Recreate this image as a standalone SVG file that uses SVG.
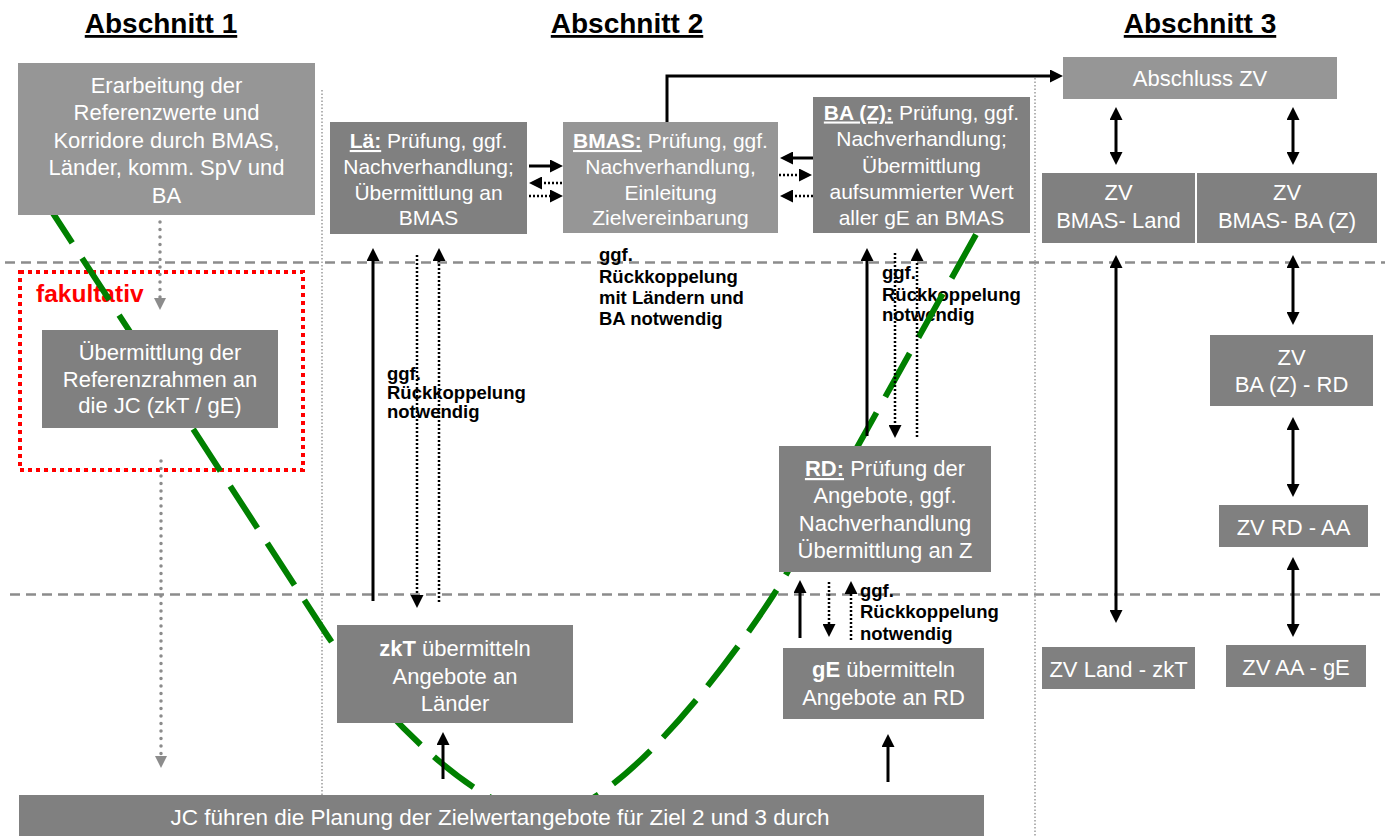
<svg xmlns="http://www.w3.org/2000/svg" width="1385" height="836" viewBox="0 0 1385 836">
<defs>
<style>
.t{font-family:"Liberation Sans",Arial,sans-serif;fill:#fff;text-anchor:middle}
.t22{font-size:22px}
.t21{font-size:21px}
.hd{font-family:"Liberation Sans",Arial,sans-serif;font-size:28px;font-weight:bold;fill:#000;text-anchor:middle;text-decoration:underline}
.lb{font-family:"Liberation Sans",Arial,sans-serif;font-size:18.5px;font-weight:bold;fill:#000}
.b{font-weight:bold}
.u{font-weight:bold;text-decoration:underline}
.light{fill:#969696}
.dark{fill:#808080}
.sep{stroke:#8c8c8c;stroke-width:2.5;stroke-dasharray:10 6;fill:none}
.div{stroke:#9a9a9a;stroke-width:1.5;stroke-dasharray:1.5 2;fill:none}
.solid{stroke:#000;stroke-width:3;fill:none}
.dot{stroke:#000;stroke-width:2.5;stroke-dasharray:2 2;fill:none}
.gdot{stroke:#8c8c8c;stroke-width:3.5;stroke-dasharray:0 7.5;stroke-linecap:round;fill:none}
</style>
<marker id="ah" markerUnits="userSpaceOnUse" markerWidth="13" markerHeight="13" refX="4" refY="6.5" orient="auto-start-reverse">
<path d="M0,0 L13,6.5 L0,13 z" fill="#000"/>
</marker>
<marker id="ahg" markerUnits="userSpaceOnUse" markerWidth="12" markerHeight="12" refX="2" refY="6" orient="auto">
<path d="M0,0 L12,6 L0,12 z" fill="#8c8c8c"/>
</marker>
</defs>
<rect width="1385" height="836" fill="#fff"/>

<g id="headings">
<text class="hd" x="161" y="33">Abschnitt 1</text>
<text class="hd" x="627" y="33">Abschnitt 2</text>
<text class="hd" x="1200" y="33">Abschnitt 3</text>
</g>

<g id="background-lines">
<line class="sep" x1="5" y1="262.5" x2="1385" y2="262.5"/>
<line class="sep" x1="10" y1="594.5" x2="1385" y2="594.5"/>
<line class="div" x1="322" y1="90" x2="322" y2="795"/>
<line class="div" x1="1035" y1="78" x2="1035" y2="836"/>
</g>

<g id="fakultativ">
<rect x="20" y="272" width="283" height="198" fill="none" stroke="#ff0000" stroke-width="4" stroke-dasharray="4 4"/>
<text x="36" y="302" font-family="'Liberation Sans',Arial,sans-serif" font-size="24.5px" font-weight="bold" fill="#ff0000">fakultativ</text>
</g>

<g id="labels">
<text class="lb"><tspan x="387" y="380">ggf.</tspan><tspan x="387" y="399">Rückkoppelung</tspan><tspan x="387" y="418">notwendig</tspan></text>
<text class="lb"><tspan x="599" y="261">ggf.</tspan><tspan x="599" y="283">Rückkoppelung</tspan><tspan x="599" y="304">mit Ländern und</tspan><tspan x="599" y="325">BA notwendig</tspan></text>
<text class="lb"><tspan x="882" y="279">ggf.</tspan><tspan x="882" y="301">Rückkoppelung</tspan><tspan x="882" y="321">notwendig</tspan></text>
<text class="lb"><tspan x="860" y="597">ggf.</tspan><tspan x="860" y="618">Rückkoppelung</tspan><tspan x="860" y="640">notwendig</tspan></text>
</g>

<g id="curve">
<path d="M45,201 L325,632 C374,707 478,815 545,815 C620,815 741,648 783,580 L988,213" fill="none" stroke="#008000" stroke-width="6" stroke-dasharray="50 18"/>
</g>

<g id="n-erarbeitung">
<rect class="light" x="18" y="63" width="297" height="152"/>
<text class="t t22"><tspan x="166.5" y="92.5">Erarbeitung der</tspan><tspan x="166.5" y="120">Referenzwerte und</tspan><tspan x="166.5" y="147.5">Korridore durch BMAS,</tspan><tspan x="166.5" y="175">Länder, komm. SpV und</tspan><tspan x="166.5" y="202.5">BA</tspan></text>
</g>

<g id="n-uebermittlung">
<rect class="dark" x="42" y="330" width="236" height="98"/>
<text class="t t22"><tspan x="160" y="360">Übermittlung der</tspan><tspan x="160" y="386.5">Referenzrahmen an</tspan><tspan x="160" y="413">die JC (zkT / gE)</tspan></text>
</g>

<g id="n-lae">
<rect class="dark" x="330" y="122" width="197" height="112"/>
<text class="t t21"><tspan x="428.5" y="148"><tspan class="u">Lä:</tspan> Prüfung, ggf.</tspan><tspan x="428.5" y="174">Nachverhandlung;</tspan><tspan x="428.5" y="200">Übermittlung an</tspan><tspan x="428.5" y="225">BMAS</tspan></text>
</g>

<g id="n-bmas">
<rect class="light" x="563" y="122" width="215" height="111"/>
<text class="t t21"><tspan x="670.5" y="148"><tspan class="u">BMAS:</tspan> Prüfung, ggf.</tspan><tspan x="670.5" y="174">Nachverhandlung,</tspan><tspan x="670.5" y="200">Einleitung</tspan><tspan x="670.5" y="225">Zielvereinbarung</tspan></text>
</g>

<g id="n-baz">
<rect class="dark" x="813" y="97" width="217" height="136"/>
<text class="t t21"><tspan x="921.5" y="119.5"><tspan class="u">BA (Z):</tspan> Prüfung, ggf.</tspan><tspan x="921.5" y="146">Nachverhandlung;</tspan><tspan x="921.5" y="173">Übermittlung</tspan><tspan x="921.5" y="199">aufsummierter Wert</tspan><tspan x="921.5" y="225">aller gE an BMAS</tspan></text>
</g>

<g id="n-rd">
<rect class="dark" x="779" y="446" width="212" height="126"/>
<text class="t t22"><tspan x="885" y="476"><tspan class="u">RD:</tspan> Prüfung der</tspan><tspan x="885" y="503">Angebote, ggf.</tspan><tspan x="885" y="531">Nachverhandlung</tspan><tspan x="885" y="558">Übermittlung an Z</tspan></text>
</g>

<g id="n-zkt">
<rect class="dark" x="337" y="625" width="236" height="98"/>
<text class="t t22"><tspan x="455" y="656"><tspan class="b">zkT</tspan> übermitteln</tspan><tspan x="455" y="684">Angebote an</tspan><tspan x="455" y="711">Länder</tspan></text>
</g>

<g id="n-ge">
<rect class="dark" x="783" y="648" width="201" height="71"/>
<text class="t t22"><tspan x="883.5" y="677"><tspan class="b">gE</tspan> übermitteln</tspan><tspan x="883.5" y="705">Angebote an RD</tspan></text>
</g>

<g id="n-jc">
<rect class="dark" x="19" y="795" width="965" height="41"/>
<text class="t" font-size="22.5px" x="500" y="825">JC führen die Planung der Zielwertangebote für Ziel 2 und 3 durch</text>
</g>

<g id="n-abschluss">
<rect class="light" x="1063" y="57" width="274" height="42"/>
<text class="t t22" x="1200" y="86">Abschluss ZV</text>
</g>

<g id="n-zv-bmas-land">
<rect class="dark" x="1042" y="173" width="153" height="70"/>
<text class="t t22"><tspan x="1118.5" y="200">ZV</tspan><tspan x="1118.5" y="228">BMAS- Land</tspan></text>
</g>

<g id="n-zv-bmas-ba">
<rect class="dark" x="1197" y="173" width="180" height="70"/>
<text class="t t22"><tspan x="1287" y="200">ZV</tspan><tspan x="1287" y="228">BMAS- BA (Z)</tspan></text>
</g>

<g id="n-zv-ba-rd">
<rect class="dark" x="1210" y="335" width="163" height="71"/>
<text class="t t22"><tspan x="1291.5" y="365">ZV</tspan><tspan x="1291.5" y="392">BA (Z) - RD</tspan></text>
</g>

<g id="n-zv-rd-aa">
<rect class="dark" x="1219" y="505" width="149" height="42"/>
<text class="t t22" x="1293.5" y="535">ZV RD - AA</text>
</g>

<g id="n-zv-land-zkt">
<rect class="dark" x="1042" y="647" width="153" height="42"/>
<text class="t t22" x="1118.5" y="677">ZV Land - zkT</text>
</g>

<g id="n-zv-aa-ge">
<rect class="dark" x="1226" y="645" width="140" height="42"/>
<text class="t t22" x="1296" y="675">ZV AA - gE</text>
</g>

<g id="connectors">
<path class="solid" d="M667,122 L667,76 L1054,76" marker-end="url(#ah)"/>
<line class="solid" x1="529" y1="166" x2="554" y2="166" marker-end="url(#ah)"/>
<line class="dot" x1="562" y1="183" x2="538" y2="183" marker-end="url(#ah)"/>
<line class="dot" x1="529" y1="196" x2="554" y2="196" marker-end="url(#ah)"/>
<line class="solid" x1="813" y1="158" x2="789" y2="158" marker-end="url(#ah)"/>
<line class="dot" x1="779" y1="175" x2="803" y2="175" marker-end="url(#ah)"/>
<line class="dot" x1="813" y1="196" x2="789" y2="196" marker-end="url(#ah)"/>

<line class="solid" x1="373" y1="601" x2="373" y2="257" marker-end="url(#ah)"/>
<line class="dot" x1="417" y1="255" x2="417" y2="599" marker-end="url(#ah)"/>
<line class="dot" x1="439" y1="602" x2="439" y2="257" marker-end="url(#ah)"/>

<line class="solid" x1="867" y1="436" x2="867" y2="257" marker-end="url(#ah)"/>
<line class="dot" x1="895" y1="253" x2="895" y2="429" marker-end="url(#ah)"/>
<line class="dot" x1="917" y1="437" x2="917" y2="257" marker-end="url(#ah)"/>

<line class="solid" x1="800" y1="638" x2="800" y2="589" marker-end="url(#ah)"/>
<line class="dot" x1="829" y1="582" x2="829" y2="628" marker-end="url(#ah)"/>
<line class="dot" x1="851" y1="640" x2="851" y2="590" marker-end="url(#ah)"/>

<line class="solid" x1="443" y1="779" x2="443" y2="741" marker-end="url(#ah)"/>
<line class="solid" x1="888" y1="782" x2="888" y2="743" marker-end="url(#ah)"/>

<line class="solid" x1="1116" y1="116" x2="1116" y2="156" marker-start="url(#ah)" marker-end="url(#ah)"/>
<line class="solid" x1="1293" y1="116" x2="1293" y2="156" marker-start="url(#ah)" marker-end="url(#ah)"/>
<line class="solid" x1="1116" y1="264" x2="1116" y2="614" marker-start="url(#ah)" marker-end="url(#ah)"/>
<line class="solid" x1="1293" y1="264" x2="1293" y2="316" marker-start="url(#ah)" marker-end="url(#ah)"/>
<line class="solid" x1="1293" y1="426" x2="1293" y2="488" marker-start="url(#ah)" marker-end="url(#ah)"/>
<line class="solid" x1="1293" y1="566" x2="1293" y2="628" marker-start="url(#ah)" marker-end="url(#ah)"/>

<line class="gdot" x1="160" y1="222" x2="160" y2="300" marker-end="url(#ahg)"/>
<line class="gdot" x1="161" y1="461" x2="161" y2="758" marker-end="url(#ahg)"/>
</g>
</svg>
